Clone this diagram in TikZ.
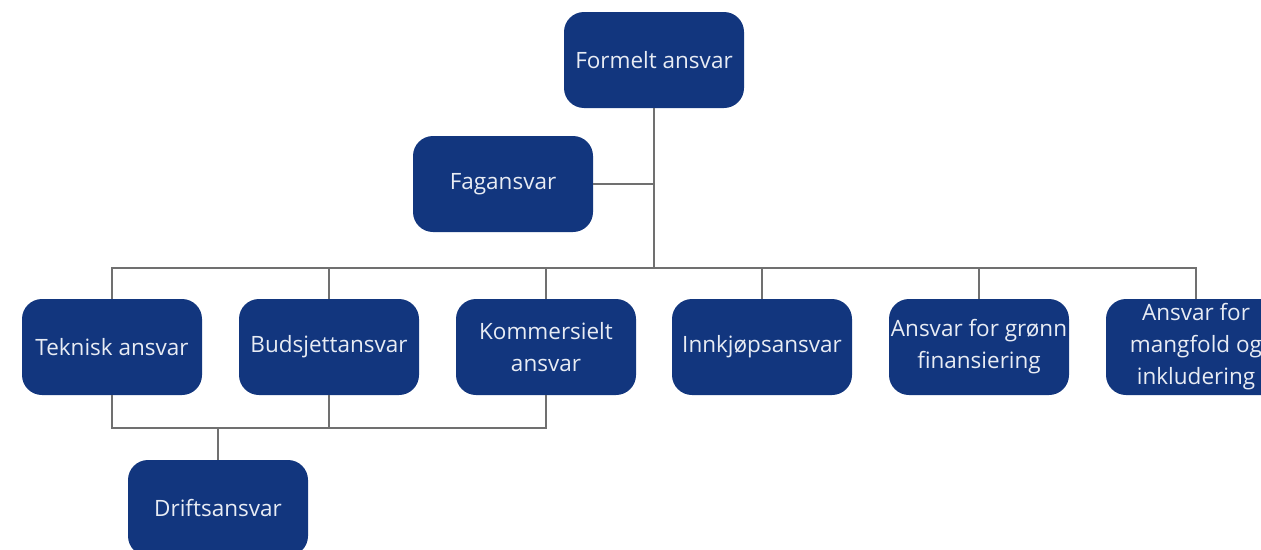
\documentclass[tikz,border=0pt]{standalone}
\usepackage{fontspec}
\setmainfont{Open Sans}
\usepackage{tikz}
\usetikzlibrary{positioning}
\definecolor{ansvarblue}{RGB}{18,54,126}
\definecolor{ansvartext}{RGB}{232,236,244}
\definecolor{linegray}{RGB}{112,112,112}

\begin{document}
\begin{tikzpicture}[
    x=1pt, y=-1pt,
    box/.style={draw=none, rounded corners=20pt, minimum height=96pt, minimum width=180pt,
                inner sep=0pt, font=\fontsize{22.5}{32}\selectfont, align=center,
                fill=ansvarblue, text=ansvartext},
    conn/.style={draw=linegray, line width=1.3pt},
]
\path[use as bounding box, clip] (0,0) rectangle (1261,549);

\node[box] (formelt)  at (654,60)  {Formelt ansvar};
\node[box] (fag)      at (503,184) {Fagansvar};
\node[box] (teknisk)  at (112,347) {Teknisk ansvar};
\node[box] (budsjett) at (329,347) {Budsjettansvar};
\node[box] (kommers)  at (546,347) {Kommersielt\\ansvar};
\node[box] (innkjop)  at (762,347) {Innkjøpsansvar};
\node[box] (gronn)    at (979,347) {Ansvar for grønn\\finansiering};
\node[box] (mangfold) at (1196,347) {Ansvar for\\mangfold og\\inkludering};
\node[box] (drift)    at (218,508) {Driftsansvar};

% busses
\coordinate (bus)    at (654,268);
\coordinate (lowbus) at (218,428);

\draw[conn] (formelt.south) -- (bus);
\draw[conn] (fag.east) -- (fag.east -| formelt.south);
\draw[conn] (teknisk.north)  |- (bus);
\draw[conn] (budsjett.north) -- (budsjett.north |- bus);
\draw[conn] (kommers.north)  -- (kommers.north |- bus);
\draw[conn] (mangfold.north) |- (bus);
\draw[conn] (innkjop.north)  -- (innkjop.north |- bus);
\draw[conn] (gronn.north)    -- (gronn.north |- bus);

\draw[conn] (teknisk.south)  |- (lowbus);
\draw[conn] (kommers.south)  |- (lowbus);
\draw[conn] (budsjett.south) -- (budsjett.south |- lowbus);
\draw[conn] (lowbus) -- (drift.north);
\end{tikzpicture}
\end{document}
